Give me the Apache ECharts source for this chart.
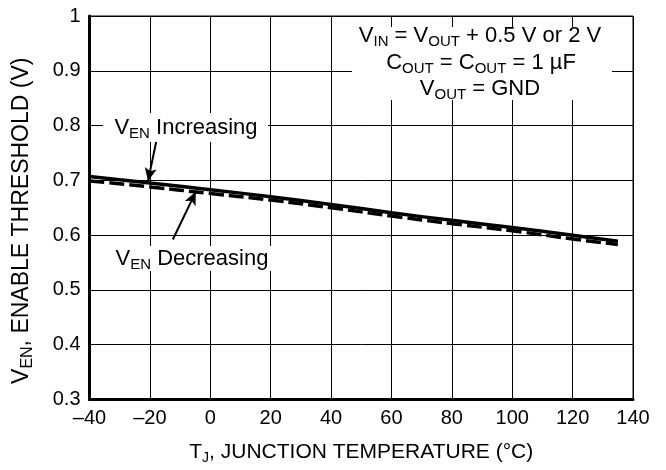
<!DOCTYPE html>
<html>
<head>
<meta charset="utf-8">
<script src="https://cdn.jsdelivr.net/npm/echarts@6/dist/echarts.min.js"></script>
<style>
  html, body { margin: 0; padding: 0; background: #fff; }
  #main { width: 666px; height: 470px; }
</style>
</head>
<body>
<div id="main"></div>
<script>
// junction temperature (°C)
const temps = [-40, -20, 0, 20, 40, 60, 80, 100, 120, 135];
// enable threshold (V)
const vEnIncreasing = [0.707, 0.695, 0.683, 0.670, 0.656, 0.641, 0.627, 0.614, 0.600, 0.589];
const vEnDecreasing = [0.699, 0.688, 0.676, 0.664, 0.650, 0.635, 0.621, 0.608, 0.593, 0.583];

// annotation arrows, [from, to] in data units
const arrowIncreasing = [[-17.9, 0.771], [-20.6, 0.699]];
const arrowDecreasing = [[-12.4, 0.592], [-4.8, 0.679]];

const FONT = "'Liberation Sans', Arial, Helvetica, sans-serif";

function richStyles(size, subSize, drop) {
  return {
    m: { fontSize: size, fontFamily: FONT, color: '#000', lineHeight: size + 4 },
    s: { fontSize: subSize, fontFamily: FONT, color: '#000', lineHeight: subSize, padding: [drop * 2, 0, 0, 0] }
  };
}

const chart = echarts.init(document.getElementById('main'));

const option = {
  animation: false,
  backgroundColor: '#fff',
  grid: {
    left: 86, right: 33, top: 16, bottom: 70,
    show: true, borderColor: '#000', borderWidth: 1
  },
  xAxis: {
    type: 'value',
    min: -40, max: 140, interval: 20,
    axisLine: { show: true, onZero: false, lineStyle: { color: '#000', width: 3 } },
    axisTick: { show: false },
    splitLine: { show: true, lineStyle: { color: '#000', width: 1 } },
    axisLabel: {
      color: '#000', fontSize: 20, fontFamily: FONT, margin: 9,
      formatter: v => String(v).replace('-', '\u2013')
    },
    name: '{m|T}{s|J}{m|, JUNCTION TEMPERATURE (°C)}',
    nameLocation: 'middle',
    nameGap: 40,
    nameTextStyle: { rich: richStyles(21, 14, 6) }
  },
  yAxis: {
    type: 'value',
    min: 0.3, max: 1, interval: 0.1,
    axisLine: { show: true, onZero: false, lineStyle: { color: '#000', width: 3 } },
    axisTick: { show: false },
    splitLine: { show: true, lineStyle: { color: '#000', width: 1 } },
    axisLabel: {
      color: '#000', fontSize: 20, fontFamily: FONT, margin: 9,
      formatter: v => (Math.abs(v - 1) < 1e-9 ? '1' : v.toFixed(1))
    },
    name: '{m|V}{s|EN}{m|, ENABLE THRESHOLD (V)}',
    nameLocation: 'middle',
    nameGap: 54,
    nameTextStyle: { rich: richStyles(23, 16, 6), padding: [0, 26, 0, 0] }
  },
  series: [
    {
      name: 'VEN Increasing',
      type: 'line',
      data: temps.map((t, i) => [t, vEnIncreasing[i]]),
      showSymbol: false,
      smooth: true,
      lineStyle: { color: '#000', width: 3.5 },
      z: 5,
      markLine: {
        silent: true,
        symbol: ['none', 'arrow'],
        symbolSize: [9, 13],
        lineStyle: { color: '#000', width: 2, type: 'solid' },
        label: { show: false },
        data: [
          [{ coord: arrowIncreasing[0] }, { coord: arrowIncreasing[1] }],
          [{ coord: arrowDecreasing[0] }, { coord: arrowDecreasing[1] }]
        ]
      }
    },
    {
      name: 'VEN Decreasing',
      type: 'line',
      data: temps.map((t, i) => [t, vEnDecreasing[i]]),
      showSymbol: false,
      smooth: true,
      lineStyle: { color: '#000', width: 3.5, type: [15, 5] },
      z: 4
    }
  ],
  graphic: [
    // conditions box
    { type: 'rect', shape: { x: 352, y: 27, width: 260, height: 73 }, style: { fill: '#fff' }, z: 10 },
    {
      type: 'text', x: 480, y: 36, z: 11,
      style: { text: '{m|V}{s|IN}{m| = V}{s|OUT}{m| + 0.5 V or 2 V}', rich: richStyles(22, 15, 6), align: 'center', verticalAlign: 'middle' }
    },
    {
      type: 'text', x: 481, y: 63, z: 11,
      style: { text: '{m|C}{s|OUT}{m| = C}{s|OUT}{m| = 1 µF}', rich: richStyles(22, 15, 6), align: 'center', verticalAlign: 'middle' }
    },
    {
      type: 'text', x: 480, y: 89, z: 11,
      style: { text: '{m|V}{s|OUT}{m| = GND}', rich: richStyles(22, 15, 6), align: 'center', verticalAlign: 'middle' }
    },
    // curve labels
    { type: 'rect', shape: { x: 103, y: 113, width: 165, height: 29 }, style: { fill: '#fff' }, z: 10 },
    {
      type: 'text', x: 186, y: 128, z: 11,
      style: { text: '{m|V}{s|EN}{m| Increasing}', rich: richStyles(22, 15, 6), align: 'center', verticalAlign: 'middle' }
    },
    { type: 'rect', shape: { x: 110, y: 246, width: 165, height: 25 }, style: { fill: '#fff' }, z: 10 },
    {
      type: 'text', x: 192, y: 259, z: 11,
      style: { text: '{m|V}{s|EN}{m| Decreasing}', rich: richStyles(22, 15, 6), align: 'center', verticalAlign: 'middle' }
    }
  ]
};

chart.setOption(option);
</script>
</body>
</html>
